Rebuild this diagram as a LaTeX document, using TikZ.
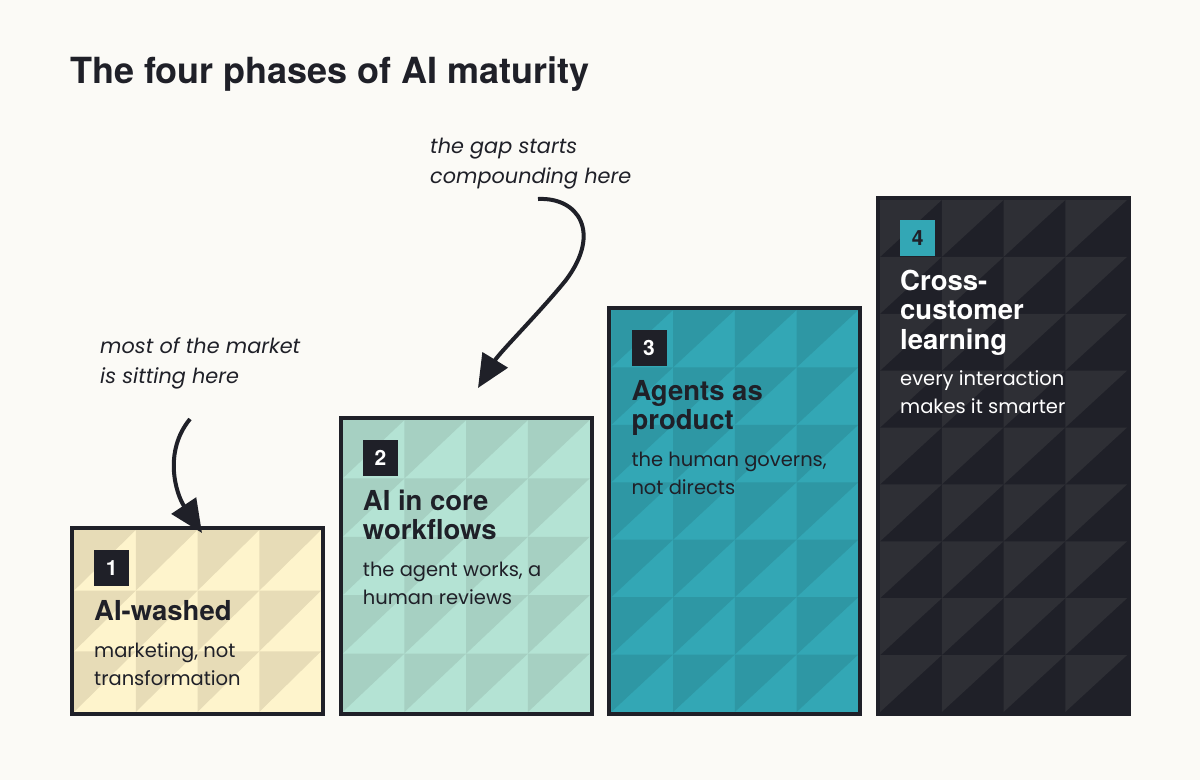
\documentclass[tikz,border=0pt]{standalone}
\usepackage{fontspec}
\setmainfont{TeX Gyre Heros}
\newfontfamily\notefont{Poppins}
\usetikzlibrary{arrows.meta}

\definecolor{paper}{HTML}{FBFAF6}
\definecolor{ink}{HTML}{1F2028}
\definecolor{sandA}{HTML}{FEF4CC} \definecolor{sandB}{HTML}{E7DCB7}
\definecolor{mintA}{HTML}{B4E3D4} \definecolor{mintB}{HTML}{A6D0C2}
\definecolor{tealA}{HTML}{33A7B5} \definecolor{tealB}{HTML}{2E97A4}
\definecolor{nightA}{HTML}{1F2028} \definecolor{nightB}{HTML}{2E2F35}

\tikzset{
  phase/.style={draw=ink, line width=4pt, minimum width=251pt, anchor=north west, inner sep=0pt},
  badge/.style={fill=ink, text=white, font=\bfseries\fontsize{21}{21}\selectfont, minimum width=35pt, minimum height=36pt, inner sep=0pt, anchor=north west},
  heading/.style={anchor=base west, align=left, inner sep=0pt, text=ink, font=\bfseries\fontsize{27.5}{29.5}\selectfont},
  blurb/.style={anchor=base west, align=left, inner sep=0pt, text=ink, font=\notefont\fontsize{19.5}{28}\selectfont},
  note/.style={anchor=base west, align=left, inner sep=0pt, text=ink, font=\notefont\itshape\fontsize{20.8}{30}\selectfont},
  curl/.style={draw=ink, line width=4pt, -{Triangle[length=33pt,width=29pt]}},
}

\begin{document}
\begin{tikzpicture}[x=1pt,y=-1pt]
\fill[paper] (0,0) rectangle (1200,780) ;
\useasboundingbox (0,0) rectangle (1200,780) ;

\node[anchor=base west, inner sep=0pt, text=ink, font=\bfseries\fontsize{36}{36}\selectfont] (title) at (70,83) {The four phases of AI maturity} ;

% the four steps, each with its grid of triangles
\foreach \i/\x/\y/\n/\ca/\cb in {1/70/526/3/sandA/sandB, 2/338.7/416/5/mintA/mintB, 3/607.3/306/7/tealA/tealB, 4/876/196/9/nightA/nightB}{
  \pgfmathsetmacro\h{(712-\y-4)/\n}
  \pgfmathsetmacro\bh{712-\y}
  \fill[\ca] (\x+4,\y+4) rectangle (\x+251,712) ;
  \foreach \c in {0,...,3}
    \foreach \r in {1,...,\n}
      \fill[\cb] ({\x+4+61.75*\c}, {\y+4+\h*(\r-1)}) -- ++(61.75,0) -- ++(-61.75,\h) -- cycle ;
  \node[phase, minimum height=\bh pt] (b\i) at (\x,\y) {} ;
}

% base of a node of several lines = its last line
\node[badge] (n1) at ([shift={(24,24)}]b1.north west) {1} ;
\node[heading] (t1) at ([shift={(24,94)}]b1.north west) {AI-washed} ;
\node[blurb] (s1) at ([shift={(24,159)}]b1.north west) {marketing, not\\transformation} ;

\node[badge] (n2) at ([shift={(24,24)}]b2.north west) {2} ;
\node[heading] (t2) at ([shift={(24,123.5)}]b2.north west) {AI in core\\workflows} ;
\node[blurb] (s2) at ([shift={(24,188)}]b2.north west) {the agent works, a\\human reviews} ;

\node[badge] (n3) at ([shift={(24,24)}]b3.north west) {3} ;
\node[heading] (t3) at ([shift={(24,123.5)}]b3.north west) {Agents as\\product} ;
\node[blurb] (s3) at ([shift={(24,188)}]b3.north west) {the human governs,\\not directs} ;

\node[badge, fill=tealA, text=ink] (n4) at ([shift={(24,24)}]b4.north west) {4} ;
\node[heading, text=white] (t4) at ([shift={(24,153)}]b4.north west) {Cross-\\customer\\learning} ;
\node[blurb, text=white] (s4) at ([shift={(24,217)}]b4.north west) {every interaction\\makes it smarter} ;

% the two remarks
\node[note] (m1) at (100,383) {most of the market\\is sitting here} ;
\node[note] (m2) at (430,183) {the gap starts\\compounding here} ;

\coordinate (a1s) at (190,419) ;
\coordinate (a1e) at (202,533) ;
\draw[curl] (a1s) .. controls (163,452) and (176,494) .. (a1e) ;

\coordinate (a2s) at (538,199) ;
\coordinate (a2m) at (566,280) ;
\coordinate (a2e) at (478,388) ;
\draw[curl] (a2s) .. controls (578,197) and (602,232) .. (a2m) .. controls (541,311) and (500,352) .. (a2e) ;

\end{tikzpicture}
\end{document}
